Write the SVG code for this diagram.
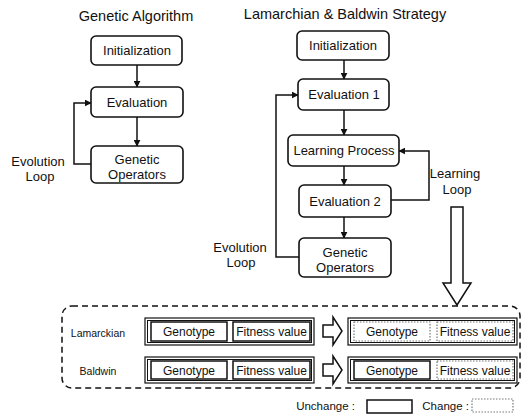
<svg xmlns="http://www.w3.org/2000/svg" width="523" height="415" viewBox="0 0 523 415">
<defs>
<marker id="ah" viewBox="0 0 10 10" refX="9" refY="5" markerWidth="7" markerHeight="7" markerUnits="userSpaceOnUse" orient="auto"><path d="M0,0 L10,5 L0,10 z" fill="#111"/></marker>
<style>
text{font-family:"Liberation Sans",Arial,sans-serif;fill:#111}
.t{font-size:14.5px;text-anchor:middle}
.n{font-size:13px;text-anchor:middle}
.l{font-size:13px;text-anchor:middle}
.r{font-size:10.5px;text-anchor:middle}
.b{font-size:12px;text-anchor:middle}
.g{font-size:11.5px}
.box{fill:#fff;stroke:#111;stroke-width:1.6}
.c{fill:none;stroke:#111;stroke-width:1.5}
.un{fill:#fff;stroke:#111;stroke-width:1.5}
.ch{fill:#fff;stroke:#777;stroke-width:1.2;stroke-dasharray:1.5 1.5}
.dbl{fill:#fff;stroke:#111;stroke-width:1.2}
.ha{fill:#fff;stroke:#111;stroke-width:1.5;stroke-linejoin:miter}
</style>
</defs>
<text class="t" x="136" y="21">Genetic Algorithm</text>
<text class="t" x="345" y="19">Lamarchian &amp; Baldwin Strategy</text>
<g id="connectors">
<path class="c" d="M137,65 V87" marker-end="url(#ah)"/>
<path class="c" d="M137,117 V146" marker-end="url(#ah)"/>
<path class="c" d="M91,164 H74 V103 H91" marker-end="url(#ah)"/>
<path class="c" d="M344,60 V79" marker-end="url(#ah)"/>
<path class="c" d="M344,110 V135" marker-end="url(#ah)"/>
<path class="c" d="M344,166 V185" marker-end="url(#ah)"/>
<path class="c" d="M344,217 V238" marker-end="url(#ah)"/>
<path class="c" d="M299,257 H276 V95 H298" marker-end="url(#ah)"/>
<path class="c" d="M391,200 H429 V151 H399" marker-end="url(#ah)"/>
<polygon class="ha" points="451,207 463,207 463,283 471,283 457,305 443,283 451,283"/>
<polygon class="ha" points="323,325 333,325 333,317 342,331 333,345 333,337 323,337"/>
<polygon class="ha" points="323,364 333,364 333,356 342,370 333,384 333,376 323,376"/>
</g>
<g id="ga-init"><rect class="box" x="91" y="36" width="91" height="29" rx="5"/><text class="n" x="137" y="55">Initialization</text></g>
<g id="ga-eval"><rect class="box" x="91" y="87" width="92" height="30" rx="5"/><text class="n" x="137" y="106.5">Evaluation</text></g>
<g id="ga-ops"><rect class="box" x="91" y="146" width="92" height="37" rx="5"/><text class="n" x="137" y="164">Genetic</text><text class="n" x="137" y="179">Operators</text></g>
<g id="ga-loop-label"><text class="l" x="38" y="166">Evolution</text><text class="l" x="40" y="181">Loop</text></g>
<g id="lb-init"><rect class="box" x="297" y="31" width="92" height="29" rx="5"/><text class="n" x="343" y="50">Initialization</text></g>
<g id="lb-eval1"><rect class="box" x="298" y="79" width="91" height="31" rx="5"/><text class="n" x="344" y="99">Evaluation 1</text></g>
<g id="lb-learn"><rect class="box" x="288" y="135" width="111" height="31" rx="5"/><text class="n" x="344" y="155">Learning Process</text></g>
<g id="lb-eval2"><rect class="box" x="299" y="185" width="92" height="32" rx="5"/><text class="n" x="345" y="205.5">Evaluation 2</text></g>
<g id="lb-ops"><rect class="box" x="299" y="238" width="92" height="39" rx="5"/><text class="n" x="345" y="257">Genetic</text><text class="n" x="345" y="272">Operators</text></g>
<g id="lb-evo-label"><text class="l" x="240" y="252">Evolution</text><text class="l" x="241" y="267">Loop</text></g>
<g id="lb-learn-label"><text class="l" x="455" y="178">Learning</text><text class="l" x="457" y="194">Loop</text></g>
<g id="strategies">
<rect x="62" y="306" width="458" height="82" rx="10" fill="none" stroke="#111" stroke-width="1.5" stroke-dasharray="6 4"/>
<text class="r" x="98" y="337">Lamarckian</text>
<text class="r" x="98" y="375">Baldwin</text>
</g>
<g id="lam-before">
<rect class="dbl" x="145" y="318" width="169" height="27"/><rect fill="none" stroke="#111" stroke-width="1" x="147.5" y="320.5" width="164" height="22"/>
<rect class="un" x="151" y="322" width="76" height="19"/><text class="b" x="189" y="336">Genotype</text>
<rect class="un" x="233" y="322" width="77" height="19"/><text class="b" x="271.5" y="336">Fitness value</text>
</g>
<g id="lam-after">
<rect class="dbl" x="348" y="318" width="169" height="27"/><rect fill="none" stroke="#111" stroke-width="1" x="350.5" y="320.5" width="164" height="22"/>
<rect class="ch" x="354" y="322" width="76" height="19"/><text class="b" x="392" y="336">Genotype</text>
<rect class="ch" x="437" y="322" width="76" height="19"/><text class="b" x="475" y="336">Fitness value</text>
</g>
<g id="bal-before">
<rect class="dbl" x="145" y="357" width="169" height="26"/><rect fill="none" stroke="#111" stroke-width="1" x="147.5" y="359.5" width="164" height="21"/>
<rect class="un" x="151" y="361" width="76" height="18"/><text class="b" x="189" y="374.5">Genotype</text>
<rect class="un" x="233" y="361" width="77" height="18"/><text class="b" x="271.5" y="374.5">Fitness value</text>
</g>
<g id="bal-after">
<rect class="dbl" x="348" y="357" width="169" height="26"/><rect fill="none" stroke="#111" stroke-width="1" x="350.5" y="359.5" width="164" height="21"/>
<rect class="un" x="354" y="361" width="76" height="18"/><text class="b" x="392" y="374.5">Genotype</text>
<rect class="ch" x="437" y="361" width="76" height="18"/><text class="b" x="475" y="374.5">Fitness value</text>
</g>
<g id="legend">
<text class="g" x="355" y="410" text-anchor="end">Unchange :</text>
<rect class="un" x="367" y="400" width="45" height="13"/>
<text class="g" x="469" y="410" text-anchor="end">Change :</text>
<rect class="ch" x="472" y="399" width="41" height="13"/>
</g>
</svg>
